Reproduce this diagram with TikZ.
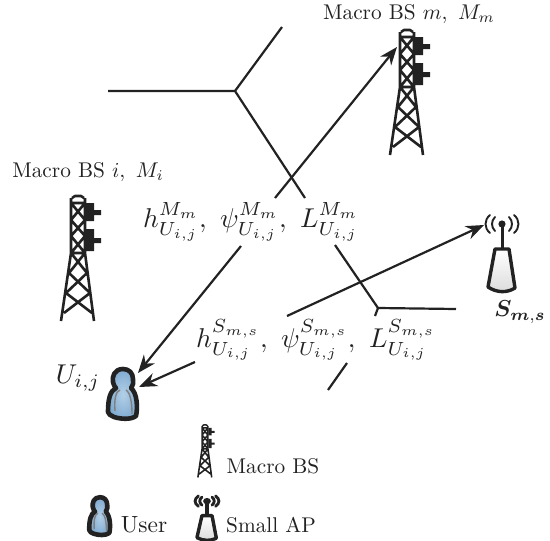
\documentclass[tikz,border=0pt]{standalone}
\usetikzlibrary{arrows.meta}
\DeclareMathAlphabet{\mathbi}{OML}{cmm}{b}{it}
\definecolor{ink}{HTML}{222222}
\definecolor{skin}{HTML}{7FAAD0}
\definecolor{skinlight}{HTML}{B4D0E8}
\tikzset{
  x=1pt,y=-1pt,
  wire/.style={draw=ink,line width=2.2pt},
  link/.style={draw=ink,line width=2.2pt,-{Stealth[length=18pt,width=14pt]}},
  lab/.style={inner sep=0pt,text=ink,transform shape,scale=2.13},
  form/.style={inner sep=0pt,text=ink,transform shape,scale=2.72},
  pics/towericon/.style={code={
    \draw[ink,line width=#1*2.6pt,line join=round]
      (-6,-60)--(-3,-62)--(3,-62)--(6,-60)
      (-7,-60)--(-7,-5)--(-17,63) (7,-60)--(7,-5)--(16,63)
      (-7,-55)--(7,-55)
      (-7,-55)--(7,-38)--(-7,-22)--(7,-5)--(-9,15)--(12,35)--(-14,55)
      (7,-55)--(-7,-38)--(7,-22)--(-7,-5)--(9,15)--(-12,35)--(14,55)
      (-7,-5)--(7,-5);
    \fill[ink] (8,-55) rectangle (16,-37) (8,-29) rectangle (16,-7)
      (14,-48) rectangle (23,-43) (14,-20) rectangle (23,-15);
  }},
  pics/usericon/.style={code={
    \path[draw=ink,line width=4.6pt,inner color=skinlight,outer color=skin,line join=round]
      (0,-30) .. controls (-9,-30) and (-11,-22) .. (-10,-17)
      .. controls (-9,-13) and (-8,-12) .. (-7,-11)
      .. controls (-13,-8) and (-15,0) .. (-15,13)
      .. controls (-15,16) and (-12,16) .. (-9,18)
      .. controls (-3,20) and (8,21) .. (13,17)
      .. controls (15,8) and (14,-6) .. (8,-11)
      .. controls (10,-14) and (11,-17) .. (10,-20)
      .. controls (10,-26) and (6,-30) .. (0,-30) -- cycle;
    \draw[gray,line width=1.4pt] (-8,12) .. controls (-9,0) and (-7,-8) .. (-3,-9)
      (3,-9) .. controls (8,-6) and (9,6) .. (9,15);
  }},
  pics/apicon/.style={code={
    \fill[ink] (-#1*1.5,-36) rectangle (#1*1.5,-10);
    \fill[ink] (0,-36) circle (#1*3.6pt);
    \draw[ink,line width=#1*1.9pt,line cap=round]
      (-7,-43) .. controls (-11,-39) and (-11,-33) .. (-7,-29);
    \draw[ink,line width=#1*1.9pt,line cap=round]
      (7,-43) .. controls (11,-39) and (11,-33) .. (7,-29);
    \draw[ink,line width=#1*1.9pt,line cap=round]
      (-12,-45) .. controls (-18,-40) and (-18,-32) .. (-12,-27);
    \draw[ink,line width=#1*1.9pt,line cap=round]
      (12,-45) .. controls (18,-40) and (18,-32) .. (12,-27);
    \path[draw=ink,line width=3.4pt,line join=round,top color=white,bottom color=black!14]
      (-7,-11)--(7,-11)--(13,28) .. controls (5,33) and (-5,33) .. (-14,27) -- cycle;
  }},
}
\begin{document}
\begin{tikzpicture}
\useasboundingbox (0,0) rectangle (550,541);
% icons
\path (407,92) pic {towericon=1};
\path (78,258) pic {towericon=1};
\path (205,451) pic[scale=.42] {towericon=.6};
\path (123,399) pic {usericon};
\path (100,520) pic[xscale=.72,yscale=.76] {usericon};
\path (502,260) pic {apicon=1};
\path (207,522) pic[xscale=.72,yscale=.58] {apicon=1.5};
% free ends
\coordinate (t1) at (108,91);
\coordinate (t2) at (282,27);
\coordinate (t3) at (235,91);
\coordinate (t4) at (305,198);
\coordinate (t5) at (335,245);
\coordinate (t6) at (378,308);
\coordinate (t7) at (456,309);
\coordinate (t8) at (375,316);
\coordinate (t9) at (347,363);
\coordinate (t10) at (328,390);
\coordinate (a1) at (275,198);
\coordinate (a2) at (397,47);
\coordinate (b1) at (241,246);
\coordinate (b2) at (138,373);
\coordinate (c1) at (195,362);
\coordinate (c2) at (139,387);
\coordinate (d1) at (287,316);
\coordinate (d2) at (484,225);
% network
\draw[wire] (t1)--(t3)--(t2);
\draw[wire] (t3)--(t4);
\draw[wire] (t5)--(t6)--(t7);
\draw[wire] (t6)--(t8);
\draw[wire] (t9)--(t10);
\draw[link] (a1)--(a2);
\draw[link] (b1)--(b2);
\draw[link] (c1)--(c2);
\draw[link] (d1)--(d2);
% text
\node[lab] (mm) at (409,14) {Macro BS $m,\ M_m$};
\node[lab] (mi) at (88,172) {Macro BS $i,\ M_i$};
\node[form] (fm) at (251,222) {$h_{U_{i,j}}^{M_m},\ \psi_{U_{i,j}}^{M_m},\ L_{U_{i,j}}^{M_m}$};
\node[form] (fs) at (316,340) {$h_{U_{i,j}}^{S_{m,s}},\ \psi_{U_{i,j}}^{S_{m,s}},\ L_{U_{i,j}}^{S_{m,s}}$};
\node[form] (uij) at (78,378) {$U_{i,j}$};
\node[form,scale=.85] (sms) at (520,312) {$\mathbi{S}_{\mathbi{m,s}}$};
\node[lab] (k1) at (273,466) {Macro BS};
\node[lab,scale=1.1] (k2) at (144,525) {User};
\node[lab] (k3) at (271,525) {Small AP};
\end{tikzpicture}
\end{document}
